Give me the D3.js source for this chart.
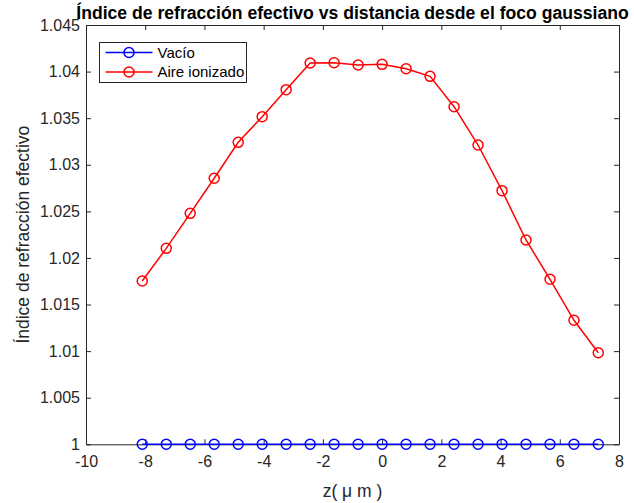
<!DOCTYPE html>
<html>
<head>
<meta charset="utf-8">
<script src="https://cdn.jsdelivr.net/npm/d3@7"></script>
<style>
    body { margin: 0; background: #fff; }
    svg { font-family: "Liberation Sans", Arial, sans-serif; }
</style>
</head>
<body>
<svg id="chart" width="634" height="503"></svg>
<script>
// z positions (micrometres)
const zValues = [-8.1, -7.29, -6.48, -5.67, -4.86, -4.05, -3.24, -2.43, -1.62, -0.81,
    0.0, 0.81, 1.62, 2.43, 3.24, 4.05, 4.86, 5.67, 6.48, 7.3];
const vacio = [1, 1, 1, 1, 1, 1, 1, 1, 1, 1, 1, 1, 1, 1, 1, 1, 1, 1, 1, 1];
const aireIonizado = [1.01753, 1.02103, 1.02479, 1.02855, 1.03241, 1.03516, 1.03806, 1.04092,
    1.04095, 1.04071, 1.04078, 1.04031, 1.03949, 1.03623, 1.03212, 1.02722, 1.02193,
    1.01771, 1.01331, 1.00983];
const xTicks = [-10, -8, -6, -4, -2, 0, 2, 4, 6, 8];
const yTicks = [1, 1.005, 1.01, 1.015, 1.02, 1.025, 1.03, 1.035, 1.04, 1.045];
const seriesNames = ["Vacío", "Aire ionizado"];
const seriesColors = ["#0000ff", "#ff0000"];

const svg = d3.select("#chart");
const margin = { left: 86, right: 15, top: 25, bottom: 58.7 };
const width = 634, height = 503;
const axisColor = "#262626";

const x = d3.scaleLinear().domain([-10, 8]).range([margin.left, width - margin.right]);
const y = d3.scaleLinear().domain([1, 1.045]).range([height - margin.bottom, margin.top]);
const fmt = d => d3.format("~g")(d).replace("−", "-");

// Axes (box with inward ticks on all sides)
const tickLen = 5;
svg.append("g")
    .attr("transform", `translate(0,${y(1)})`)
    .call(d3.axisBottom(x).tickValues(xTicks).tickSizeInner(-tickLen).tickSizeOuter(0).tickPadding(11).tickFormat(fmt))
    .call(g => g.select(".domain").attr("stroke", axisColor))
    .call(g => g.selectAll("line").attr("stroke", axisColor))
    .call(g => g.selectAll("text").attr("fill", axisColor).style("font-size", "16px"));

svg.append("g")
    .attr("transform", `translate(0,${y(1.045)})`)
    .call(d3.axisTop(x).tickValues(xTicks).tickSizeInner(-tickLen).tickSizeOuter(0).tickFormat(""))
    .call(g => g.select(".domain").attr("stroke", axisColor))
    .call(g => g.selectAll("line").attr("stroke", axisColor));

svg.append("g")
    .attr("transform", `translate(${x(-10)},0)`)
    .call(d3.axisLeft(y).tickValues(yTicks).tickSizeInner(-tickLen).tickSizeOuter(0).tickPadding(6).tickFormat(fmt))
    .call(g => g.select(".domain").attr("stroke", axisColor))
    .call(g => g.selectAll("line").attr("stroke", axisColor))
    .call(g => g.selectAll("text").attr("fill", axisColor).style("font-size", "16px"));

svg.append("g")
    .attr("transform", `translate(${x(8)},0)`)
    .call(d3.axisRight(y).tickValues(yTicks).tickSizeInner(-tickLen).tickSizeOuter(0).tickFormat(""))
    .call(g => g.select(".domain").attr("stroke", axisColor))
    .call(g => g.selectAll("line").attr("stroke", axisColor));

// Series
const line = d3.line().x(d => x(d[0])).y(d => y(d[1]));
[vacio, aireIonizado].forEach((vals, i) => {
    const pts = zValues.map((z, j) => [z, vals[j]]);
    const g = svg.append("g");
    g.append("path")
        .datum(pts)
        .attr("d", line)
        .attr("fill", "none")
        .attr("stroke", seriesColors[i])
        .attr("stroke-width", 1.5);
    g.selectAll("circle")
        .data(pts)
        .enter().append("circle")
        .attr("cx", d => x(d[0]))
        .attr("cy", d => y(d[1]))
        .attr("r", 5)
        .attr("fill", "none")
        .attr("stroke", seriesColors[i])
        .attr("stroke-width", 1.5);
});

// Title and labels
svg.append("text")
    .attr("x", (x(-10) + x(8)) / 2)
    .attr("y", 19)
    .attr("text-anchor", "middle")
    .style("font-size", "17.6px")
    .style("font-weight", "bold")
    .text("Índice de refracción efectivo vs distancia desde el foco gaussiano");

svg.append("text")
    .attr("x", (x(-10) + x(8)) / 2)
    .attr("y", 497)
    .attr("text-anchor", "middle")
    .attr("fill", axisColor)
    .style("font-size", "17.5px")
    .text("z( μ m )");

svg.append("text")
    .attr("transform", `translate(29,${(y(1) + y(1.045)) / 2}) rotate(-90)`)
    .attr("text-anchor", "middle")
    .attr("fill", axisColor)
    .style("font-size", "17.5px")
    .text("Índice de refracción efectivo");

// Legend
const legend = svg.append("g").attr("transform", "translate(99.5,42.5)");
legend.append("rect")
    .attr("width", 147).attr("height", 40)
    .attr("fill", "#fff").attr("stroke", axisColor).attr("stroke-width", 1);
seriesNames.forEach((name, i) => {
    const yy = 10 + i * 19.5;
    legend.append("line")
        .attr("x1", 6).attr("x2", 53).attr("y1", yy).attr("y2", yy)
        .attr("stroke", seriesColors[i]).attr("stroke-width", 1.5);
    legend.append("circle")
        .attr("cx", 29.5).attr("cy", yy).attr("r", 5)
        .attr("fill", "none").attr("stroke", seriesColors[i]).attr("stroke-width", 1.5);
    legend.append("text")
        .attr("x", 58).attr("y", yy).attr("dy", "0.35em")
        .style("font-size", "15px")
        .text(name);
});
</script>
</body>
</html>
